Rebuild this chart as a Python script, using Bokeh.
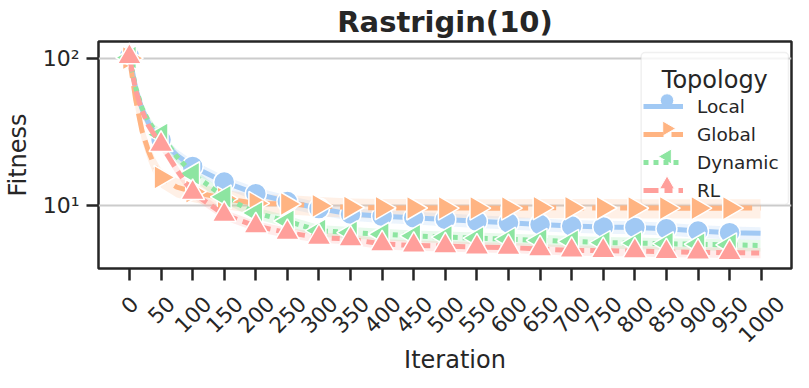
import math
from bokeh.plotting import figure
from bokeh.layouts import column
from bokeh.models import (FixedTicker, Label, Legend, LegendItem, Range1d,
                          BoxAnnotation)
from bokeh.core.properties import value
from bokeh.embed import file_html
from bokeh.resources import INLINE

# ---------------- data ----------------
iterations = [0, 10, 20, 30, 40, 50, 75, 100, 150, 200, 250, 300, 350, 400,
              450, 500, 550, 600, 650, 700, 750, 800, 850, 900, 950, 999]
local = [103, 62, 45, 36.5, 31, 28, 22, 18.5, 14.5, 12.1, 10.7, 9.6, 8.8, 8.5,
         8.3, 8.1, 7.87, 7.68, 7.48, 7.3, 7.21, 7.15, 7.0, 6.76, 6.59, 6.53]
global_ = [100, 52, 32, 23.5, 18.5, 15.6, 13.4, 12.5, 11.2, 10.4, 10.3, 10.0,
           9.75, 9.7, 9.68, 9.66, 9.66, 9.65, 9.7, 9.7, 9.68, 9.66, 9.66, 9.65,
           9.66, 9.66]
dynamic = [101, 63, 46, 37.5, 32.5, 30.4, 21.5, 16.5, 11.5, 8.95, 7.87, 6.8,
           6.6, 6.43, 6.26, 6.15, 6.05, 5.95, 5.85, 5.75, 5.65, 5.6, 5.55, 5.5,
           5.45, 5.4]
rl = [102, 60, 44, 35, 30, 26, 17.5, 12.3, 8.72, 7.3, 6.59, 6.11, 5.96, 5.52,
      5.4, 5.35, 5.25, 5.22, 5.11, 5.0, 4.97, 4.95, 4.88, 4.86, 4.82, 4.8]
# relative half-width of the shaded confidence band of each series
ci_local, ci_global, ci_dynamic, ci_rl = 0.10, 0.15, 0.09, 0.08

x_ticks = list(range(0, 1001, 50))
x_tick_labels = [str(t) for t in x_ticks]
y_ticks = [10, 100]
y_tick_labels = ["10\u00b9", "10\u00b2"]

TEXT = "#262626"
FONT = "DejaVu Sans"

# ---------------- layout (canvas pixels) ----------------
W, H = 793, 372
FL, FT, FR, FB = 95, 41, 791, 268      # frame edges
HP = FB + 16                           # height of the main figure
HB = H - HP                            # strip below it for the x labels
X0, X1 = -49, 1048
Y_LO, Y_HI = 3.77, 129.6


def dx(cx):
    return X0 + (cx - FL) / (FR - FL) * (X1 - X0)


def dy(cy):
    a, b = math.log10(Y_LO), math.log10(Y_HI)
    return 10 ** (a + (FB - cy) / (FB - FT) * (b - a))


p = figure(width=W, height=HP, x_range=Range1d(X0, X1),
           y_range=Range1d(Y_LO, Y_HI), y_axis_type="log",
           output_backend="svg", toolbar_location=None,
           min_border_left=FL, min_border_right=W - FR, min_border_top=FT,
           min_border_bottom=HP - FB, title="Rastrigin(10)")
p.background_fill_color = "white"
p.border_fill_color = "white"
p.outline_line_color = TEXT
p.outline_line_width = 2.5

p.title.text_font = FONT
p.title.text_font_size = "29px"
p.title.text_font_style = "bold"
p.title.text_color = TEXT
p.title.align = "center"
p.title.standoff = 5

p.xgrid.grid_line_color = None
p.ygrid.grid_line_color = "#cccccc"
p.ygrid.grid_line_width = 2

for ax in (p.xaxis[0], p.yaxis[0]):
    ax.axis_line_color = None
    ax.major_tick_line_color = TEXT
    ax.major_tick_line_width = 2.5
    ax.major_tick_in = 0
    ax.major_tick_out = 12
    ax.minor_tick_line_color = None

p.yaxis.ticker = FixedTicker(ticks=y_ticks, minor_ticks=[])
p.yaxis.major_label_overrides = dict(zip(y_ticks, y_tick_labels))
p.yaxis.major_label_text_font = FONT
p.yaxis.major_label_text_font_size = "22px"
p.yaxis.major_label_text_color = TEXT
p.yaxis.major_label_standoff = 7
p.yaxis.axis_label = "Fitness"
p.yaxis.axis_label_text_font = FONT
p.yaxis.axis_label_text_font_size = "24px"
p.yaxis.axis_label_text_font_style = "normal"
p.yaxis.axis_label_text_color = TEXT
p.yaxis.axis_label_standoff = 8

p.xaxis.ticker = FixedTicker(ticks=x_ticks, minor_ticks=[])
p.xaxis.major_label_text_font_size = "0px"
p.xaxis.major_label_text_color = None
p.xaxis.major_label_standoff = 0

# ---------------- legend box (drawn below the data) ----------------
BOX_L, BOX_R, BOX_T, BOX_B = 640, 788, 52, 204
p.add_layout(BoxAnnotation(left=dx(BOX_L), right=dx(BOX_R), top=dy(BOX_T),
                           bottom=dy(BOX_B), fill_color="white", fill_alpha=0.8,
                           line_color="#cccccc", line_width=1.5,
                           border_radius=4, level="underlay"))

# ---------------- data marks ----------------
series = [
    ("Local", local, "#a1c9f4", "solid", "circle", 0.0, 21, ci_local),
    ("Global", global_, "#ffb482", "20 8", "triangle", -math.pi / 2, 24, ci_global),
    ("Dynamic", dynamic, "#8de5a1", "5 5", "triangle", math.pi / 2, 24, ci_dynamic),
    ("RL", rl, "#ff9f9b", "15 6 8 6", "triangle", 0.0, 24, ci_rl),
]

for name, vals, col, dash, mk, ang, size, ci in series:
    p.varea(x=iterations, y1=[v * (1 - ci) for v in vals],
            y2=[v * (1 + ci) for v in vals], fill_color=col, fill_alpha=0.2)

items = []
for name, vals, col, dash, mk, ang, size, ci in series:
    lr = p.line(iterations, vals, line_color=col, line_width=5, line_dash=dash)
    mx = [x for x in iterations if x % 50 == 0]
    my = [v for x, v in zip(iterations, vals) if x % 50 == 0]
    p.scatter(mx, my, marker=mk, angle=ang, size=size, fill_color=col,
              line_color="white", line_width=1.5)
    items.append(LegendItem(label=name, renderers=[lr]))

# ---------------- legend (lines + labels; box, markers, title added) --------
PAD, GW, GH = 6, 40, 28
ROW_TOP = 86
legend = Legend(items=items,
                location=(BOX_L - FL, FB - (ROW_TOP + 4 * GH + PAD)),
                label_text_font=FONT, label_text_font_size="18.5px",
                label_text_color=TEXT, glyph_width=GW, glyph_height=GH,
                spacing=0, padding=PAD, label_standoff=14, margin=0,
                background_fill_alpha=0, border_line_color=None)
p.add_layout(legend)

for i, (name, vals, col, dash, mk, ang, size, ci) in enumerate(series):
    cy = ROW_TOP + i * GH + GH / 2
    p.scatter([dx(BOX_L + PAD + GW / 2)], [dy(cy)], marker=mk, angle=ang,
              size=13.5 if mk == "circle" else 15, fill_color=col,
              line_color="white", line_width=1)

p.add_layout(Label(x=dx((BOX_L + BOX_R) / 2), y=dy(79), text="Topology",
                   text_align="center", text_baseline="alphabetic",
                   text_font=FONT, text_font_size="24px", text_color=TEXT))

# ---------------- strip below: rotated tick labels and x title -------------
pb = figure(width=W, height=HB, x_range=p.x_range,
            y_range=Range1d(HB, 0), output_backend="svg",
            toolbar_location=None, x_axis_location=None, y_axis_location=None,
            min_border_left=FL, min_border_right=W - FR, min_border_top=0,
            min_border_bottom=0)
pb.grid.visible = False
pb.outline_line_color = None
pb.background_fill_color = "white"
pb.border_fill_color = "white"

f = 21.5
label_y = [FB + 26.7 + 0.707 * (0.31 * f + 0.318 * f * len(s)) - HP
           for s in x_tick_labels]
pb.text(x=x_ticks, y=label_y, text=x_tick_labels, angle=math.pi / 4,
        text_align="center", text_baseline="middle", text_font=value(FONT),
        text_font_size=value("21.5px"), text_color=TEXT)
pb.text(x=[dx((FL + FR) / 2 + 10)], y=[359 - HP], text=["Iteration"],
        text_align="center", text_baseline="alphabetic", text_font=value(FONT),
        text_font_size=value("24px"), text_color=TEXT)

layout = column(p, pb, spacing=0)
open("out.html", "w").write(file_html(layout, INLINE))
